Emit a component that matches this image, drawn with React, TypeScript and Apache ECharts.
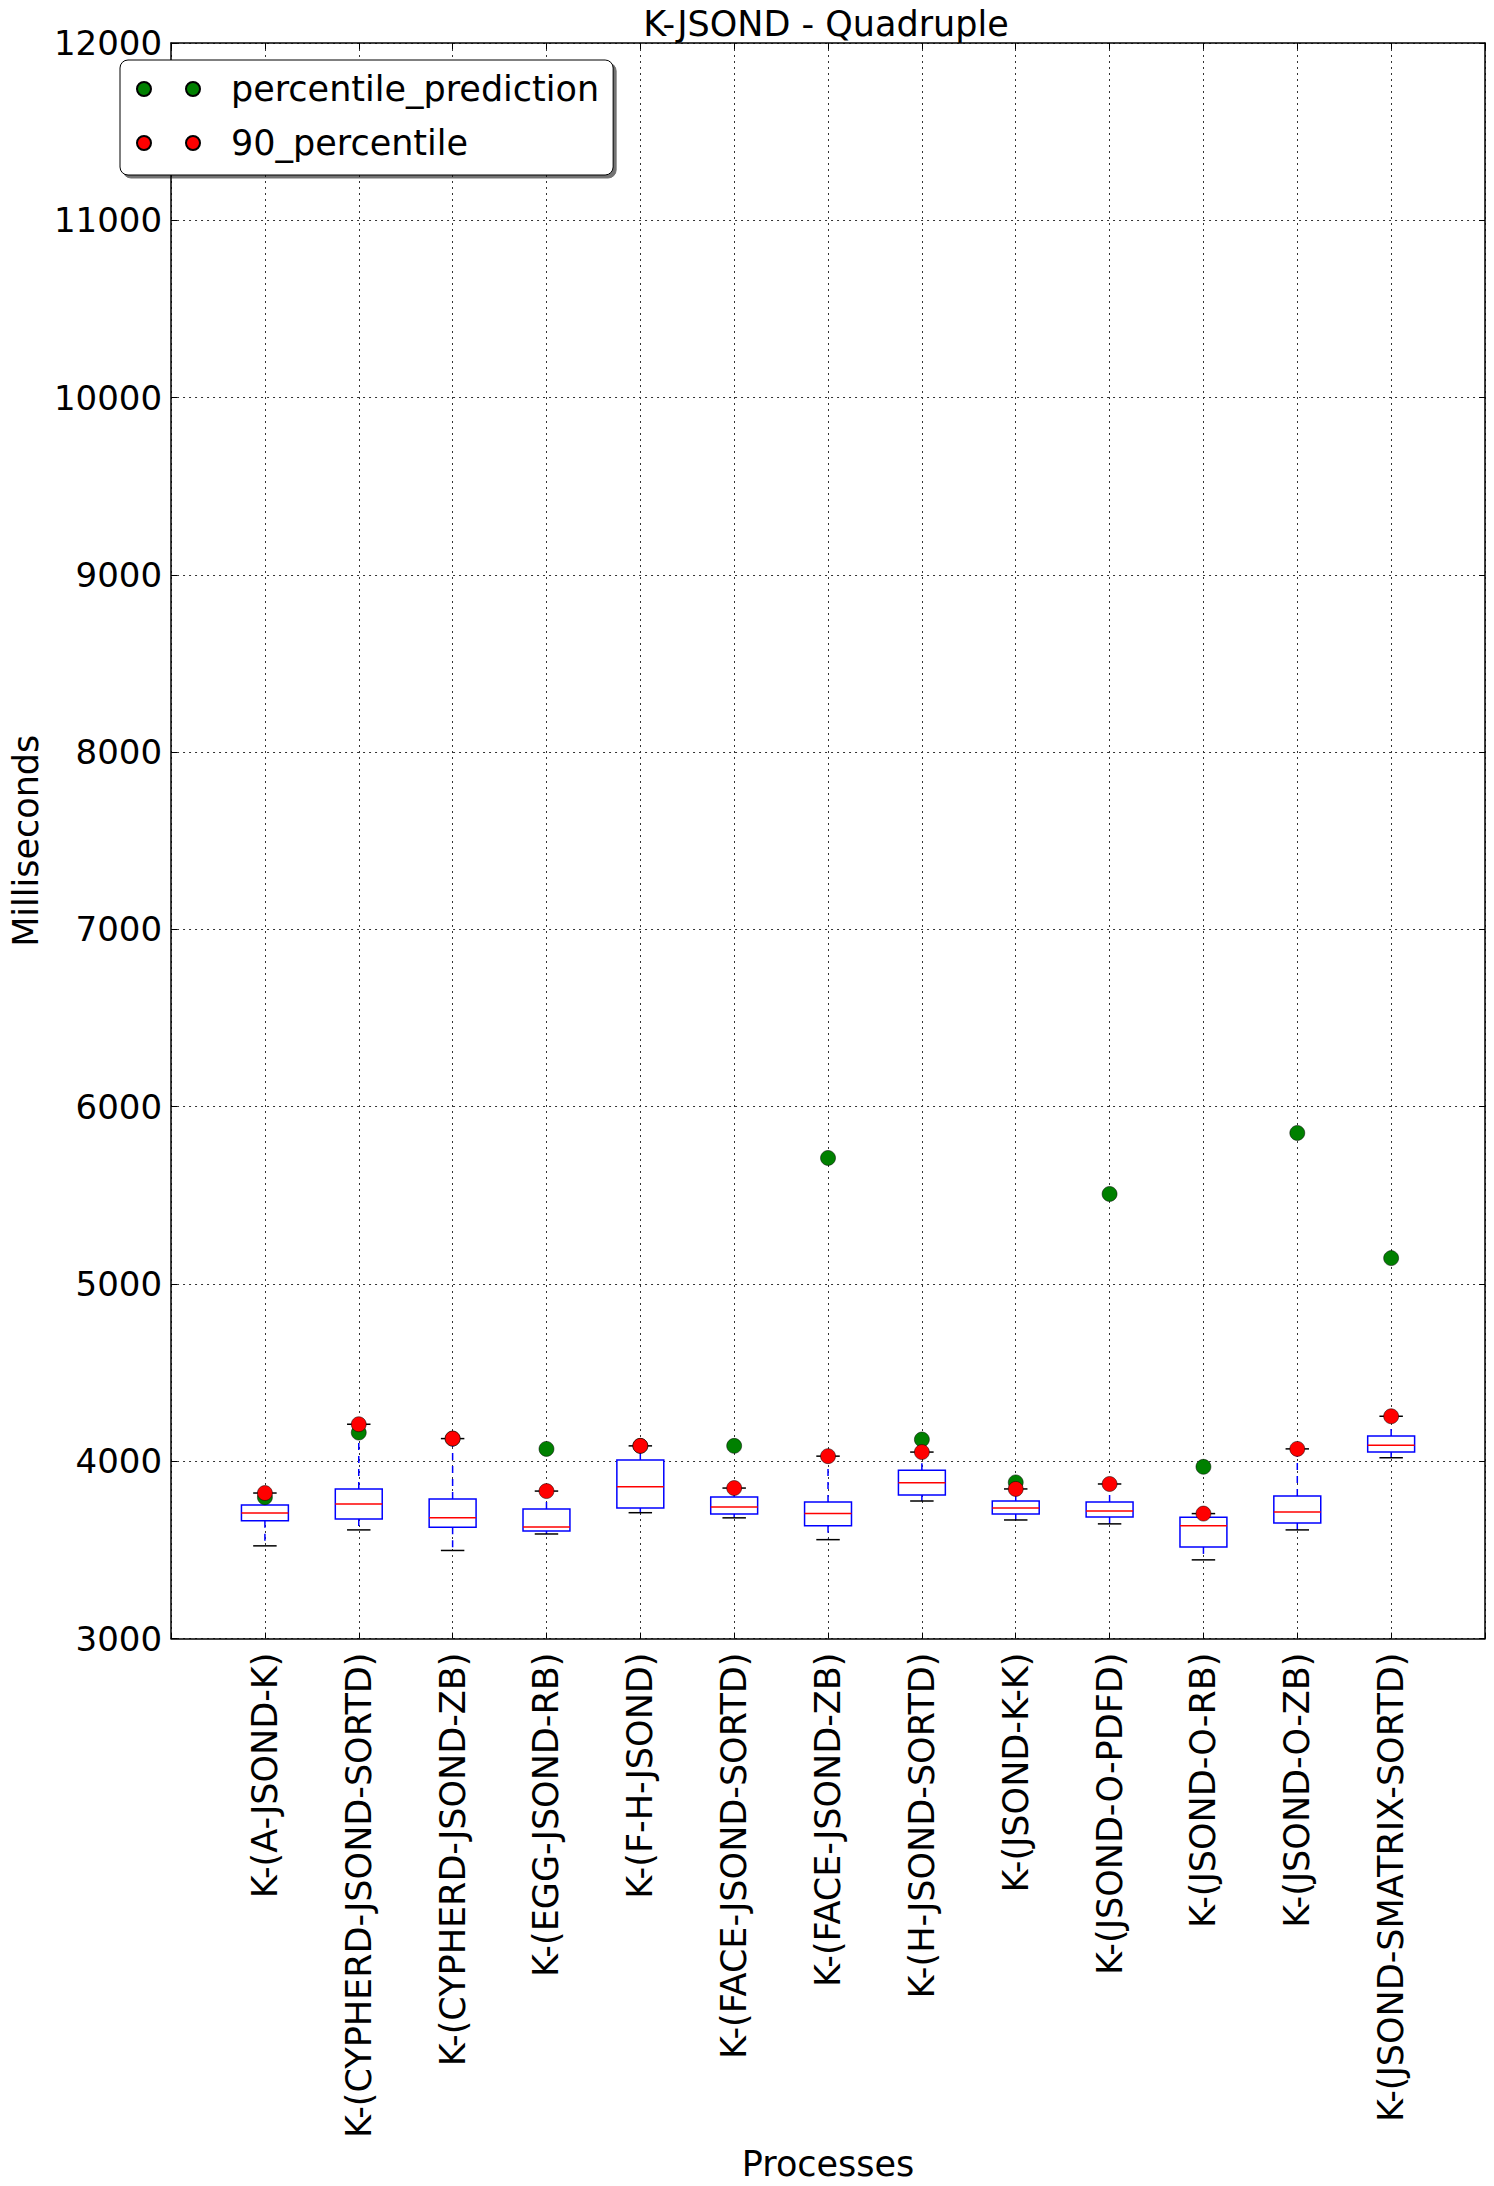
import React, { useEffect, useRef } from "react";
import * as echarts from "echarts";

const categories = [
  "K-(A-JSOND-K)",
  "K-(CYPHERD-JSOND-SORTD)",
  "K-(CYPHERD-JSOND-ZB)",
  "K-(EGG-JSOND-RB)",
  "K-(F-H-JSOND)",
  "K-(FACE-JSOND-SORTD)",
  "K-(FACE-JSOND-ZB)",
  "K-(H-JSOND-SORTD)",
  "K-(JSOND-K-K)",
  "K-(JSOND-O-PDFD)",
  "K-(JSOND-O-RB)",
  "K-(JSOND-O-ZB)",
  "K-(JSOND-SMATRIX-SORTD)",
];
const whiskerLow = [3523, 3613, 3497, 3590, 3710, 3681, 3558, 3776, 3669, 3647, 3444, 3613, 4020];
const q1 = [3664, 3675, 3628, 3607, 3737, 3703, 3636, 3810, 3703, 3686, 3517, 3652, 4052];
const median = [3709, 3759, 3681, 3630, 3857, 3742, 3705, 3879, 3737, 3720, 3636, 3714, 4091];
const q3 = [3754, 3844, 3787, 3731, 4007, 3799, 3771, 3950, 3776, 3771, 3684, 3804, 4142];
const whiskerHigh = [3821, 4209, 4128, 3832, 4087, 3849, 4029, 4052, 3844, 3872, 3705, 4070, 4254];
const percentile90 = [3821, 4209, 4128, 3832, 4087, 3849, 4029, 4052, 3844, 3872, 3705, 4070, 4254];
const percentilePrediction = [3797, 4162, 4128, 4070, 4087, 4087, 5711, 4123, 3881, 5508, 3969, 5852, 5146];

const FONT = "DejaVu Sans";

export default function App() {
  const ref = useRef<HTMLDivElement>(null);
  useEffect(() => {
    const chart = echarts.init(ref.current as HTMLDivElement, null, { renderer: "svg" });
    const boxData = categories.map((_, i) => [i + 1, whiskerLow[i], q1[i], median[i], q3[i], whiskerHigh[i]]);

    const renderItem = (params: any, api: any) => {
      const x = api.value(0);
      const pLo = api.coord([x, api.value(1)]);
      const pQ1 = api.coord([x, api.value(2)]);
      const pMed = api.coord([x, api.value(3)]);
      const pQ3 = api.coord([x, api.value(4)]);
      const pHi = api.coord([x, api.value(5)]);
      const boxHalf = api.size([0.5, 0])[0] / 2;
      const capHalf = api.size([0.25, 0])[0] / 2;
      const cx = pMed[0];
      const blue = "#0000ff";
      return {
        type: "group",
        children: [
          {
            type: "line",
            shape: { x1: cx, y1: pQ1[1], x2: cx, y2: pLo[1] },
            style: { stroke: blue, lineWidth: 1.5, lineDash: [7, 6] },
          },
          {
            type: "line",
            shape: { x1: cx, y1: pQ3[1], x2: cx, y2: pHi[1] },
            style: { stroke: blue, lineWidth: 1.5, lineDash: [7, 6] },
          },
          {
            type: "line",
            shape: { x1: cx - capHalf, y1: pLo[1], x2: cx + capHalf, y2: pLo[1] },
            style: { stroke: "#000", lineWidth: 1.5 },
          },
          {
            type: "line",
            shape: { x1: cx - capHalf, y1: pHi[1], x2: cx + capHalf, y2: pHi[1] },
            style: { stroke: "#000", lineWidth: 1.5 },
          },
          {
            type: "rect",
            shape: { x: cx - boxHalf, y: pQ3[1], width: boxHalf * 2, height: pQ1[1] - pQ3[1] },
            style: { fill: "#fff", stroke: blue, lineWidth: 1.5 },
          },
          {
            type: "line",
            shape: { x1: cx - boxHalf, y1: pMed[1], x2: cx + boxHalf, y2: pMed[1] },
            style: { stroke: "#ff0000", lineWidth: 1.5 },
          },
        ],
      };
    };

    const gridLine = { show: true, lineStyle: { color: "#333", width: 1, type: [2, 4] as any } };
    const frameLine = { show: true, onZero: false, lineStyle: { color: "#000", width: 1.5 } };
    const tick = { show: true, inside: true, length: 6, lineStyle: { color: "#000", width: 1 } };

    chart.setOption({
      animation: false,
      backgroundColor: "#fff",
      title: {
        text: "K-JSOND - Quadruple",
        left: 826,
        top: 6,
        padding: 0,
        textAlign: "center",
        textStyle: { fontSize: 35, fontWeight: "normal", color: "#000", fontFamily: FONT },
      },
      legend: {
        orient: "vertical",
        left: 120,
        top: 60,
        data: ["percentile_prediction", "90_percentile"],
        icon: "path://M0,7A7,7,0,1,1,14,7A7,7,0,1,1,0,7ZM49,7A7,7,0,1,1,63,7A7,7,0,1,1,49,7Z",
        itemWidth: 63,
        itemHeight: 14,
        itemGap: 14,
        padding: [9, 14, 12, 16],
        backgroundColor: "#fff",
        borderColor: "#000",
        borderWidth: 1,
        borderRadius: 8,
        shadowColor: "rgba(0,0,0,0.55)",
        shadowBlur: 0,
        shadowOffsetX: 3,
        shadowOffsetY: 3,
        textStyle: { fontSize: 35, color: "#000", fontFamily: FONT, lineHeight: 40, padding: [0, 0, 0, 26] },
      },
      grid: { left: 167, top: 43, right: 9, bottom: 543, containLabel: false },
      xAxis: [
        {
          type: "value",
          min: 0,
          max: 14,
          interval: 1,
          position: "bottom",
          axisLine: frameLine,
          axisTick: tick,
          splitLine: gridLine,
          axisLabel: {
            rotate: 90,
            margin: 14,
            fontSize: 35,
            color: "#000",
            fontFamily: FONT,
            formatter: (v: number) => (v >= 1 && v <= categories.length ? categories[v - 1] : ""),
          },
          name: "Processes",
          nameLocation: "middle",
          nameGap: 491,
          nameTextStyle: { fontSize: 35, color: "#000", fontFamily: FONT },
        },
        {
          type: "value",
          min: 0,
          max: 14,
          interval: 1,
          position: "top",
          axisLine: frameLine,
          axisTick: tick,
          splitLine: { show: false },
          axisLabel: { show: false },
        },
      ],
      yAxis: [
        {
          type: "value",
          min: 3000,
          max: 12000,
          interval: 1000,
          position: "left",
          axisLine: frameLine,
          axisTick: tick,
          splitLine: gridLine,
          axisLabel: {
            margin: 9,
            fontSize: 34,
            color: "#000",
            fontFamily: FONT,
            formatter: (v: number) => String(v),
          },
          name: "Milliseconds",
          nameLocation: "middle",
          nameGap: 110,
          nameTextStyle: { fontSize: 35, color: "#000", fontFamily: FONT },
        },
        {
          type: "value",
          min: 3000,
          max: 12000,
          interval: 1000,
          position: "right",
          axisLine: frameLine,
          axisTick: tick,
          splitLine: { show: false },
          axisLabel: { show: false },
        },
      ],
      series: [
        {
          type: "custom",
          name: "boxes",
          xAxisIndex: 0,
          yAxisIndex: 0,
          renderItem,
          encode: { x: 0, y: [1, 2, 3, 4, 5] },
          data: boxData,
          z: 2,
        },
        {
          type: "scatter",
          name: "percentile_prediction",
          xAxisIndex: 0,
          yAxisIndex: 0,
          symbol: "circle",
          symbolSize: 15,
          itemStyle: { color: "#008000", borderColor: "#000", borderWidth: 0.5, opacity: 1 },
          data: percentilePrediction.map((v, i) => [i + 1, v]),
          z: 3,
        },
        {
          type: "scatter",
          name: "90_percentile",
          xAxisIndex: 0,
          yAxisIndex: 0,
          symbol: "circle",
          symbolSize: 15,
          itemStyle: { color: "#ff0000", borderColor: "#000", borderWidth: 0.5, opacity: 1 },
          data: percentile90.map((v, i) => [i + 1, v]),
          z: 4,
        },
      ],
    });
    return () => chart.dispose();
  }, []);

  return (
    <div
      ref={ref}
      style={{ position: "absolute", left: 0, top: 0, width: 1494, height: 2186, background: "#fff" }}
    />
  );
}
